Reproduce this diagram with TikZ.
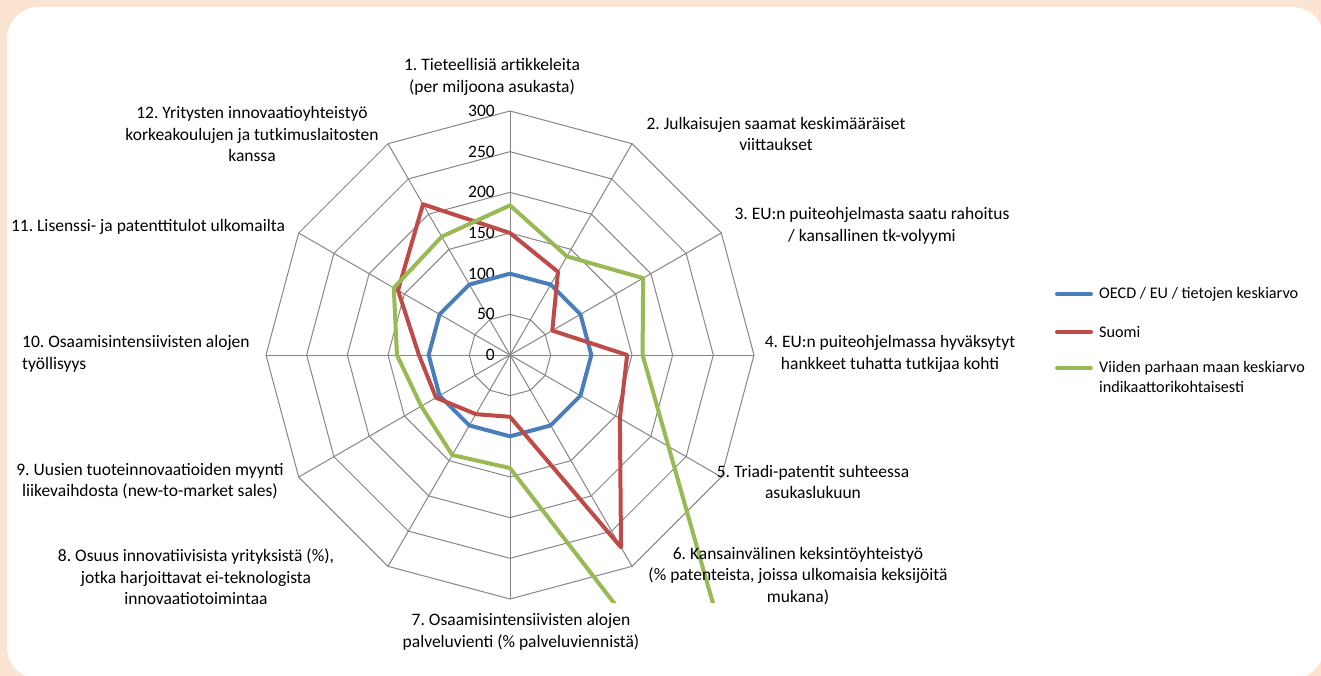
\documentclass[tikz,border=0pt]{standalone}
\usepackage{fontspec}
\setmainfont{Carlito}
\frenchspacing
\definecolor{peach}{HTML}{FCE4D2}
\definecolor{gridc}{HTML}{868686}
\definecolor{serblue}{HTML}{4A7EBB}
\definecolor{serred}{HTML}{BE4B48}
\definecolor{sergreen}{HTML}{98B954}
\tikzset{
  gridline/.style={draw=gridc, line width=1pt},
  series/.style={line width=4pt, line join=round, line cap=round},
  lbl/.style={font=\fontsize{17.5}{21.5}\selectfont\frenchspacing, align=center, inner sep=0pt, text=black},
  leglbl/.style={font=\fontsize{16.2}{20}\selectfont, align=left, inner sep=0pt, text=black, anchor=west},
  tick/.style={font=\fontsize{17.5}{21.5}\selectfont, inner sep=0pt, anchor=east},
  legline/.style={line width=4pt, line cap=round}
}
\begin{document}
\begin{tikzpicture}[x=1pt, y=-1pt]
\useasboundingbox (0,0) rectangle (1321,676);
\fill[peach] (0,0) rectangle (1321,676);
\fill[white, rounded corners=32pt] (7,7) rectangle (1324,679);

\begin{scope}[shift={(510,355)}, x=0.8133pt, y=0.8133pt]
  \coordinate (O) at (0,0);
  % grid
  \foreach \r in {50,100,...,300}
    \draw[gridline] (90:\r) \foreach \a in {60,30,...,-240}{ -- (\a:\r)} -- cycle;
  \foreach \a in {90,60,...,-240}
    \draw[gridline] (O) -- (\a:300);
  % tick labels
  \foreach \v in {0,50,...,300}
    \node[tick] (t\v) at (-18.4,\v) {\v};
  % series
  \begin{scope}
    \clip (-700,-303.7) rectangle (1000,400);
    \draw[series, serblue] (90:100) \foreach \a in {60,30,...,-240}{ -- (\a:100)} -- cycle;
    \draw[series, serred] (90:150) -- (60:118) -- (30:60) -- (0:144) -- (-30:156)
      -- (-60:273) -- (-90:76) -- (-120:84) -- (-150:105) -- (-180:112)
      -- (-210:159) -- (-240:214) -- cycle;
    \draw[series, sergreen] (90:184) -- (60:140) -- (30:189) -- (0:163) -- (-30:225)
      -- (-60:640) -- (-90:139) -- (-120:142) -- (-150:126) -- (-180:139)
      -- (-210:165) -- (-240:168) -- cycle;
  \end{scope}
\end{scope}

% axis labels
\node[lbl] (l1) at (492,77) {1. Tieteellisiä artikkeleita\\(per miljoona asukasta)};
\node[lbl] (l2) at (776,134) {2. Julkaisujen saamat keskimääräiset\\viittaukset};
\node[lbl] (l3) at (872,226) {3. EU:n puiteohjelmasta saatu rahoitus\\/ kansallinen tk-volyymi};
\node[lbl] (l4) at (890,354) {4. EU:n puiteohjelmassa hyväksytyt\\hankkeet tuhatta tutkijaa kohti};
\node[lbl] (l5) at (813,482) {5. Triadi-patentit suhteessa\\asukaslukuun};
\node[lbl] (l6) at (798,576) {6. Kansainvälinen keksintöyhteistyö\\(\% patenteista, joissa ulkomaisia keksijöitä\\mukana)};
\node[lbl] (l7) at (521,632) {7. Osaamisintensiivisten alojen\\palveluvienti (\% palveluviennistä)};
\node[lbl] (l8) at (196,577) {8. Osuus innovatiivisista yrityksistä (\%),\\jotka harjoittavat ei-teknologista\\innovaatiotoimintaa};
\node[lbl] (l9) at (150,481) {9. Uusien tuoteinnovaatioiden myynti\\liikevaihdosta (new-to-market sales)};
\node[lbl, align=left, anchor=west] (l10) at (22,354) {10. Osaamisintensiivisten alojen\\työllisyys};
\node[lbl] (l11) at (148,227) {11. Lisenssi- ja patenttitulot ulkomailta};
\node[lbl] (l12) at (252,134) {12. Yritysten innovaatioyhteistyö\\korkeakoulujen ja tutkimuslaitosten\\kanssa};

% legend
\coordinate (lb1) at (1057,294);
\coordinate (lb2) at (1091,294);
\coordinate (lr1) at (1057,332);
\coordinate (lr2) at (1091,332);
\coordinate (lg1) at (1057,368);
\coordinate (lg2) at (1091,368);
\draw[legline, serblue] (lb1) -- (lb2);
\draw[legline, serred] (lr1) -- (lr2);
\draw[legline, sergreen] (lg1) -- (lg2);
\node[leglbl] (tb) at (1099,294) {OECD / EU / tietojen keskiarvo};
\node[leglbl] (tr) at (1099,332) {Suomi};
\node[leglbl] (tg) at (1099,377) {Viiden parhaan maan keskiarvo\\indikaattorikohtaisesti};
\end{tikzpicture}
\end{document}
